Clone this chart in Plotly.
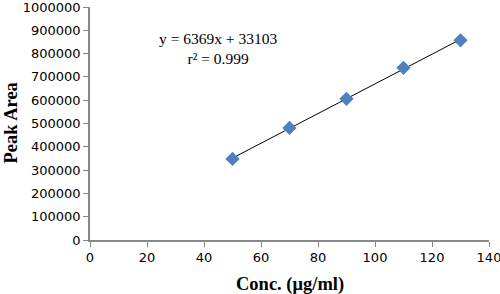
import plotly.graph_objects as go

conc = [50, 70, 90, 110, 130]
peak_area = [348000, 481000, 606000, 739000, 857000]
slope = 6369
intercept = 33103
eq_text = "y = 6369x + 33103<br>r² = 0.999"
x_ticks = [0, 20, 40, 60, 80, 100, 120, 140]
y_ticks = [0, 100000, 200000, 300000, 400000, 500000, 600000, 700000, 800000, 900000, 1000000]

fit_x = [conc[0], conc[-1]]
fit_y = [slope * v + intercept for v in fit_x]

fig = go.Figure()
fig.add_trace(go.Scatter(x=fit_x, y=fit_y, mode="lines",
                         line=dict(color="black", width=1), showlegend=False))
fig.add_trace(go.Scatter(x=conc, y=peak_area, mode="markers",
                         marker=dict(symbol="diamond", size=11, color="#4F81BD",
                                     line=dict(width=0)), showlegend=False))

axis_font = dict(family="DejaVu Sans", size=13, color="black")
common = dict(showgrid=False, zeroline=False, showline=True, linecolor="#898989",
              linewidth=1.5, ticks="outside", ticklen=5, tickcolor="#898989",
              tickfont=axis_font, automargin=False, ticklabeloverflow="allow")
fig.update_xaxes(range=[0, 140], tickvals=x_ticks, ticktext=[str(v) for v in x_ticks], **common)
fig.update_yaxes(range=[0, 1000000], tickvals=y_ticks, ticktext=[str(v) for v in y_ticks], **common)

title_font = dict(family="Liberation Serif", size=18.5, color="black")
fig.add_annotation(x=0.5, y=0, xref="paper", yref="paper", xanchor="center", yanchor="middle",
                   yshift=-44, text="<b>Conc. (μg/ml)</b>", showarrow=False, font=title_font)
fig.add_annotation(x=0, y=0.5, xref="paper", yref="paper", xanchor="center", yanchor="middle",
                   xshift=-80, textangle=-90,
                   text="<b>Peak Area</b>", showarrow=False, font=title_font)

fig.add_annotation(x=0.32, y=0.822, xref="paper", yref="paper", xanchor="center",
                   yanchor="middle", text=eq_text, showarrow=False, align="center",
                   font=dict(family="Liberation Serif", size=15.5, color="black"))

fig.update_layout(width=500, height=294, margin=dict(l=90, r=11, t=7, b=54),
                  plot_bgcolor="white", paper_bgcolor="white")
fig.write_html("out.html", config={"displayModeBar": False},
               post_script="document.body.style.margin='0px';")
